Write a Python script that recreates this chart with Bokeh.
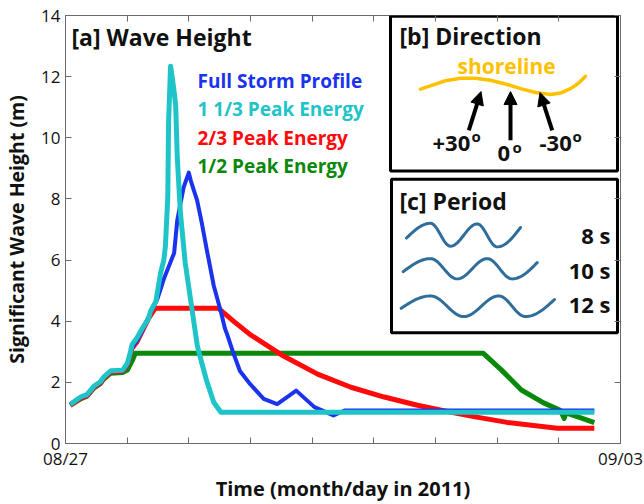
import numpy as np
from bokeh.plotting import figure
from bokeh.models import (Range1d, LinearAxis, FixedTicker, CustomJSTickFormatter,
                          Label, Arrow, NormalHead)
from bokeh.embed import file_html
from bokeh.resources import INLINE

# ---------------- data (days since 08/27 00:00, metres) ----------------
x_blue = [0.06, 0.19, 0.27, 0.36, 0.44, 0.48, 0.57, 0.72, 0.78, 0.82, 0.84, 0.90, 0.97, 1.05,
          1.16, 1.24, 1.37, 1.41, 1.49, 1.555, 1.58, 1.62, 1.66, 1.72, 1.79, 1.87, 1.96, 2.01,
          2.04, 2.11, 2.20, 2.33, 2.50, 2.67, 2.91, 3.14, 3.38, 3.52, 6.67]
y_blue = [1.28, 1.50, 1.58, 1.86, 2.00, 2.15, 2.36, 2.38, 2.60, 2.95, 3.15, 3.35, 3.70, 4.15,
          4.74, 5.38, 6.23, 7.31, 8.38, 8.86, 8.60, 8.27, 7.95, 7.20, 6.23, 5.16, 4.31, 3.77,
          3.56, 3.01, 2.37, 1.94, 1.46, 1.29, 1.73, 1.19, 0.92, 1.08, 1.08]

x_cyan = [0.06, 0.19, 0.27, 0.36, 0.44, 0.48, 0.57, 0.72, 0.78, 0.82, 0.84, 0.90, 0.97, 1.05,
          1.07, 1.14, 1.20, 1.24, 1.26, 1.29, 1.30, 1.315, 1.325, 1.345, 1.37, 1.39, 1.41, 1.45,
          1.51, 1.60, 1.66, 1.68, 1.78, 1.87, 1.96, 6.67]
y_cyan = [1.28, 1.52, 1.60, 1.88, 2.02, 2.17, 2.38, 2.40, 2.62, 3.00, 3.24, 3.45, 3.77, 4.10,
          4.31, 4.65, 5.59, 6.00, 6.45, 8.06, 10.5, 11.6, 12.34, 12.0, 11.5, 11.05, 9.34, 7.52,
          5.91, 4.31, 3.24, 3.01, 2.05, 1.35, 1.02, 1.02]

x_red = [0.06, 0.19, 0.27, 0.36, 0.44, 0.48, 0.57, 0.72, 0.78, 0.82, 0.84, 0.90, 0.97, 1.05,
         1.13, 1.93, 2.13, 2.33, 2.75, 3.18, 3.60, 4.02, 4.44, 4.77, 5.15, 5.57, 6.20, 6.67]
y_red = [1.25, 1.48, 1.56, 1.84, 1.98, 2.13, 2.34, 2.36, 2.58, 2.92, 3.12, 3.32, 3.68, 4.10,
         4.42, 4.42, 3.98, 3.56, 2.86, 2.27, 1.84, 1.52, 1.25, 1.07, 0.88, 0.69, 0.50, 0.50]

x_green = [0.06, 0.19, 0.27, 0.36, 0.44, 0.48, 0.57, 0.72, 0.78, 0.84, 0.88, 5.27, 5.50, 5.75,
           6.03, 6.24, 6.29, 6.31, 6.50, 6.67]
y_green = [1.25, 1.46, 1.55, 1.82, 1.96, 2.10, 2.30, 2.32, 2.40, 2.70, 2.95, 2.95, 2.40, 1.75,
           1.33, 1.09, 0.82, 1.00, 0.84, 0.68]

series_names = ["Full Storm Profile", "1 1/3 Peak Energy", "2/3 Peak Energy", "1/2 Peak Energy"]
y_ticks = [0, 2, 4, 6, 8, 10, 12, 14]
x_tick_labels = {"start": "08/27", "end": "09/03"}
period_labels = ["8 s", "10 s", "12 s"]
direction_labels = ["+30", "0", "-30"]
x_title = "Time (month/day in 2011)"
y_title = "Significant Wave Height (m)"

# ---------------- colours ----------------
C_BLUE = "#1a33ec"
C_CYAN = "#1ec4c8"
C_RED = "#ff0a0a"
C_GREEN = "#0a880a"
C_ORANGE = "#ffc000"
C_WAVE = "#2f6d9a"
FONT = "Open Sans"

# page pixel -> data helpers (for annotation placement); frame is 65..620 x 15..451
def X(px):
    return (px - 65.0) * 7.0 / 555.0

def Y(py):
    return (451.0 - py) * 14.0 / 436.0

p = figure(width=644, height=504, output_backend="svg", toolbar_location=None,
           x_range=Range1d(0, 7), y_range=Range1d(0, 14),
           min_border_left=65, min_border_right=24, min_border_top=15, min_border_bottom=53)
p.grid.visible = False
p.outline_line_color = "#6a6a6a"
p.outline_line_width = 1
p.background_fill_color = "white"
p.border_fill_color = "white"

xt = FixedTicker(ticks=[i * 7.0 / 9.0 for i in range(10)])
yt = FixedTicker(ticks=y_ticks)

xa = p.xaxis[0]
xa.ticker = xt
xa.formatter = CustomJSTickFormatter(
    code="if (Math.abs(tick) < 1e-6) return '%s'; if (Math.abs(tick - 7) < 1e-6) return '%s'; return '';"
         % (x_tick_labels["start"], x_tick_labels["end"]))
xa.axis_label = x_title

ya = p.yaxis[0]
ya.ticker = yt
ya.axis_label = y_title

for ax in (xa, ya):
    ax.major_tick_in = 6
    ax.major_tick_out = 0
    ax.minor_tick_line_color = None
    ax.axis_line_color = "#6a6a6a"
    ax.major_tick_line_color = "#6a6a6a"
    ax.major_label_text_font = FONT
    ax.major_label_text_font_size = "17px"
    ax.major_label_text_color = "#111111"
    ax.axis_label_text_font = FONT
    ax.axis_label_text_font_style = "bold"
    ax.axis_label_text_color = "#111111"
xa.major_label_standoff = 3
xa.axis_label_standoff = 2
xa.axis_label_text_font_size = "20px"
ya.major_label_standoff = 5
ya.axis_label_standoff = 8
ya.axis_label_text_font_size = "19.5px"

blank = CustomJSTickFormatter(code="return '';")
top = LinearAxis(ticker=xt, formatter=blank, major_tick_in=6, major_tick_out=0,
                 minor_tick_line_color=None, axis_line_color=None,
                 major_tick_line_color="#6a6a6a", major_label_standoff=0,
                 major_label_text_font_size="0px")
right = LinearAxis(ticker=yt, formatter=blank, major_tick_in=6, major_tick_out=0,
                   minor_tick_line_color=None, axis_line_color=None,
                   major_tick_line_color="#6a6a6a", major_label_standoff=0,
                   major_label_text_font_size="0px")
p.add_layout(top, "above")
p.add_layout(right, "right")

# ---------------- data lines ----------------
p.line(x_green, y_green, line_color=C_GREEN, line_width=5, line_join="round")
p.line(x_red, y_red, line_color=C_RED, line_width=5, line_join="round")
p.line(x_blue, y_blue, line_color=C_BLUE, line_width=4, line_join="round")
p.line(x_cyan, y_cyan, line_color=C_CYAN, line_width=5, line_join="round")

def label(txt, px, base_py, size, color="#111111", bold=True, align="left"):
    # positioned by the visual middle of the text (baseline minus ~0.36 em)
    p.add_layout(Label(x=X(px), y=Y(base_py - 0.36 * size), text=txt, text_font=FONT,
                       text_font_size="%dpx" % size, text_color=color,
                       text_font_style="bold" if bold else "normal",
                       text_align=align, text_baseline="middle"))

label("[a] Wave Height", 71, 45, 23)
leg_colors = [C_BLUE, C_CYAN, C_RED, C_GREEN]
leg_base = [88.3, 116.9, 146.3, 175]
for name, col, b in zip(series_names, leg_colors, leg_base):
    label(name, 197, b, 19, col)

# ---------------- inset boxes ----------------
p.quad(left=[X(390), X(391)], right=[X(617), X(617)], top=[Y(15.7), Y(181.7)],
       bottom=[Y(173.3), Y(338.3)], fill_color="white", line_color="black", line_width=3)

# [b] direction inset
shore_px_x = [420, 432, 445, 460, 475, 490, 506, 520, 535, 550, 560, 570, 578, 585]
shore_px_y = [90, 86, 81.5, 79, 79, 81, 85, 89.5, 93.5, 95.5, 94, 89.5, 84, 77]
p.line([X(v) for v in shore_px_x], [Y(v) for v in shore_px_y], line_color=C_ORANGE,
       line_width=3.5, line_cap="round", line_join="round")
label("[b] Direction", 399, 44.3, 23)
label("shoreline", 457, 74, 21, C_ORANGE)
arrows_px = [((468.3, 132), (480.5, 92.5)), ((510, 142), (510, 92.5)), ((551.7, 132), (539.5, 93.5))]
for (x0, y0), (x1, y1) in arrows_px:
    p.add_layout(Arrow(end=NormalHead(size=13, fill_color="black", line_color="black", line_width=1),
                       x_start=X(x0), y_start=Y(y0), x_end=X(x1), y_end=Y(y1),
                       line_width=4, line_color="black"))
label(direction_labels[0], 432, 153.3, 22)
label("o", 471, 143.5, 15)
label(direction_labels[1], 497, 163.3, 22)
label("o", 512, 154, 15)
label(direction_labels[2], 539, 153.3, 22)
label("o", 572, 143.5, 15)

# [c] period inset
label("[c] Period", 399, 212.7, 23)

def wave(keys):
    xs, ys = [], []
    n = len(keys)
    for i in range(n - 1):
        (xa_, ya_), (xb_, yb_) = keys[i], keys[i + 1]
        t = np.linspace(0, 1, 20)
        if i == 0:
            f = np.sin(np.pi / 2 * t)
        elif i == n - 2:
            f = 1 - np.cos(np.pi / 2 * t)
        else:
            f = (1 - np.cos(np.pi * t)) / 2
        xs.extend(list(xa_ + (xb_ - xa_) * t))
        ys.extend(list(ya_ + (yb_ - ya_) * f))
    return [X(v) for v in xs], [Y(v) for v in ys]

wave_keys = [
    [(406, 241.7), (430, 226.7), (450, 250), (476.7, 227.3), (496.7, 250.7), (520, 231)],
    [(402.7, 276), (430, 262.7), (456.7, 283.3), (486.7, 262.7), (511.7, 283.3), (536.7, 266.7)],
    [(400.7, 313.3), (430, 300.7), (463.3, 321.7), (498.3, 300.7), (525, 321.7), (554, 304.3)],
]
for k in wave_keys:
    wx, wy = wave(k)
    p.line(wx, wy, line_color=C_WAVE, line_width=3, line_cap="round", line_join="round")
for txt, b in zip(period_labels, [246.7, 281.7, 316.7]):
    label(txt, 610, b, 22, align="right")

open("out.html", "w").write(file_html(p, INLINE))
